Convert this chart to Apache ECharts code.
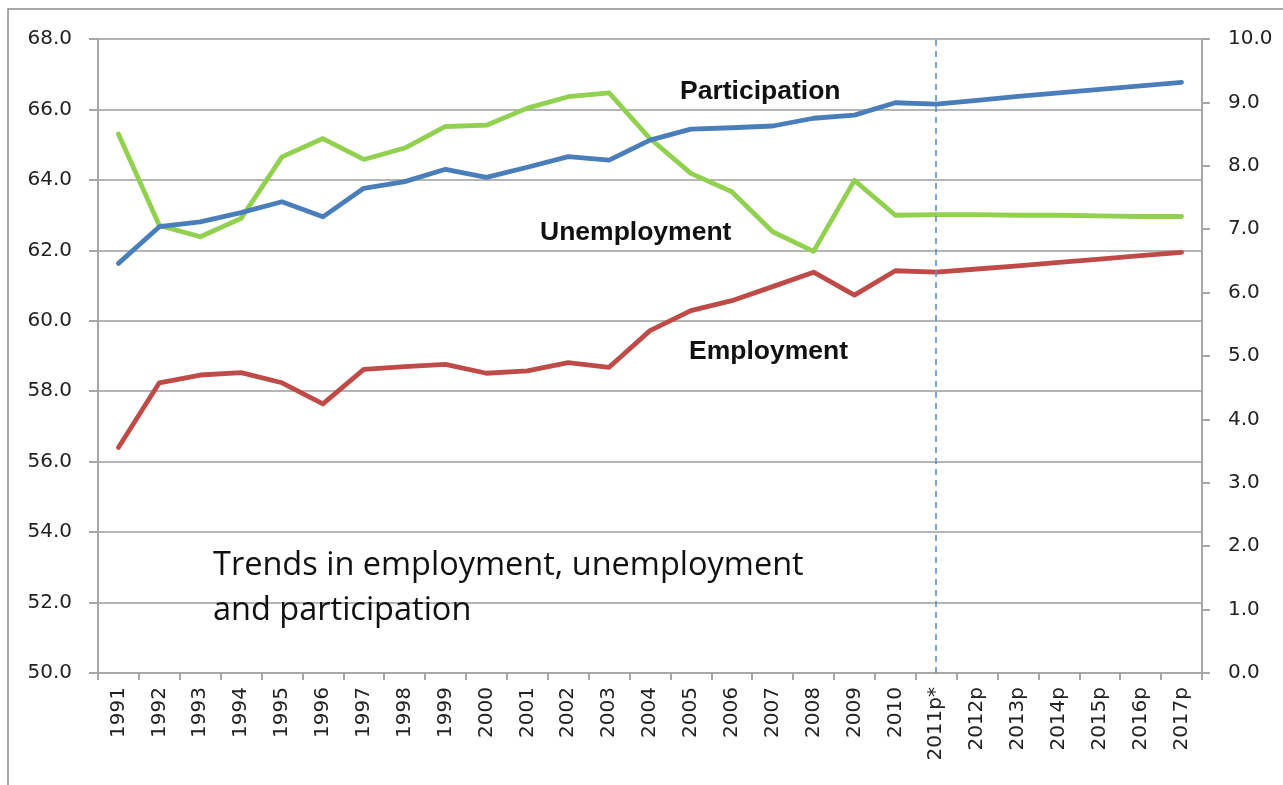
<!DOCTYPE html>
<html>
<head>
<meta charset="utf-8">
<script src="https://cdn.jsdelivr.net/npm/echarts@6/dist/echarts.min.js"></script>
<style>
  html, body { margin: 0; padding: 0; background: #ffffff; }
  #chart { width: 1283px; height: 785px; }
</style>
</head>
<body>
<div id="chart"></div>
<script>
// ---- Data ----
const years = ['1991','1992','1993','1994','1995','1996','1997','1998','1999','2000',
  '2001','2002','2003','2004','2005','2006','2007','2008','2009','2010',
  '2011p*','2012p','2013p','2014p','2015p','2016p','2017p'];

// Participation rate (%), left axis
const participation = [61.63, 62.67, 62.81, 63.07, 63.38, 62.95, 63.76, 63.95, 64.30, 64.07,
  64.36, 64.66, 64.56, 65.13, 65.44, 65.48, 65.53, 65.75, 65.84, 66.19,
  66.15, 66.26, 66.37, 66.47, 66.57, 66.67, 66.77];

// Employment rate (%), left axis
const employment = [56.40, 58.24, 58.46, 58.53, 58.24, 57.64, 58.62, 58.70, 58.76, 58.51,
  58.58, 58.81, 58.68, 59.72, 60.29, 60.57, 60.97, 61.38, 60.73, 61.42,
  61.38, 61.47, 61.56, 61.66, 61.75, 61.85, 61.94];

// Unemployment rate (%), right axis
const unemployment = [8.50, 7.06, 6.88, 7.17, 8.14, 8.43, 8.10, 8.28, 8.62, 8.64,
  8.91, 9.09, 9.15, 8.43, 7.88, 7.59, 6.96, 6.65, 7.77, 7.22,
  7.23, 7.23, 7.22, 7.22, 7.21, 7.20, 7.20];

const leftTicks = { min: 50, max: 68, interval: 2 };
const rightTicks = { min: 0, max: 10, interval: 1 };
const forecastStart = '2011p*';
const chartNote = 'Trends in employment, unemployment\nand participation';
const seriesLabels = ['Participation', 'Unemployment', 'Employment'];

// ---- Chart ----
const chart = echarts.init(document.getElementById('chart'), null, { renderer: 'canvas' });
const axisFont = { fontFamily: 'DejaVu Sans', fontSize: 20, color: '#222222' };
const grayLine = { color: '#a6a6a6', width: 2 };
const labelFont = 'bold 26.5px "Liberation Sans", Arial, sans-serif';

const option = {
  animation: false,
  backgroundColor: '#ffffff',
  grid: { left: 98, right: 81, top: 39, bottom: 112, containLabel: false },
  xAxis: {
    type: 'category',
    data: years,
    boundaryGap: true,
    axisLine: { show: true, lineStyle: grayLine },
    axisTick: { show: true, length: 7, lineStyle: grayLine, alignWithLabel: false, interval: 0 },
    axisLabel: { rotate: 90, interval: 0, margin: 14, fontSize: 20, fontFamily: 'DejaVu Sans', color: '#222222' },
    splitLine: { show: false }
  },
  yAxis: [
    {
      type: 'value', position: 'left',
      min: leftTicks.min, max: leftTicks.max, interval: leftTicks.interval,
      axisLine: { show: true, lineStyle: grayLine },
      axisTick: { show: true, length: 9, lineStyle: grayLine },
      axisLabel: Object.assign({ margin: 26, formatter: v => v.toFixed(1) }, axisFont),
      splitLine: { show: true, lineStyle: { color: '#9c9c9c', width: 1.6 } }
    },
    {
      type: 'value', position: 'right',
      min: rightTicks.min, max: rightTicks.max, interval: rightTicks.interval,
      axisLine: { show: true, lineStyle: grayLine },
      axisTick: { show: true, length: 8, lineStyle: grayLine },
      axisLabel: Object.assign({ margin: 26, formatter: v => v.toFixed(1) }, axisFont),
      splitLine: { show: false }
    }
  ],
  series: [
    {
      name: seriesLabels[0], type: 'line', yAxisIndex: 0, data: participation,
      showSymbol: false, symbol: 'none',
      lineStyle: { color: '#4a7ebb', width: 4.8, cap: 'round', join: 'round' },
      itemStyle: { color: '#4a7ebb' },
      markLine: {
        silent: true, symbol: 'none', label: { show: false },
        lineStyle: { color: '#5b8fd0', width: 1.6, type: [6, 5] },
        data: [{ xAxis: forecastStart }]
      },
      z: 3
    },
    {
      name: seriesLabels[1], type: 'line', yAxisIndex: 1, data: unemployment,
      showSymbol: false, symbol: 'none',
      lineStyle: { color: '#92d050', width: 4.8, cap: 'round', join: 'round' },
      itemStyle: { color: '#92d050' },
      z: 2
    },
    {
      name: seriesLabels[2], type: 'line', yAxisIndex: 0, data: employment,
      showSymbol: false, symbol: 'none',
      lineStyle: { color: '#be4b48', width: 4.8, cap: 'round', join: 'round' },
      itemStyle: { color: '#be4b48' },
      z: 2
    }
  ],
  graphic: [
    {
      type: 'rect', silent: true, z: -1,
      shape: { x: 8, y: 9, width: 1300, height: 800 },
      style: { fill: 'none', stroke: '#8c8c8c', lineWidth: 1.5 }
    },
    {
      type: 'text', left: 680, top: 78, z: 10,
      style: { text: seriesLabels[0], font: labelFont, fill: '#111' }
    },
    {
      type: 'text', left: 540, top: 219, z: 10,
      style: { text: seriesLabels[1], font: labelFont, fill: '#111' }
    },
    {
      type: 'text', left: 689, top: 338, z: 10,
      style: { text: seriesLabels[2], font: labelFont, fill: '#111' }
    },
    {
      type: 'text', left: 213, top: 543, z: 10,
      style: { text: chartNote, font: '32.5px "Open Sans", sans-serif', fill: '#111', lineHeight: 45 }
    }
  ]
};
chart.setOption(option);
</script>
</body>
</html>
